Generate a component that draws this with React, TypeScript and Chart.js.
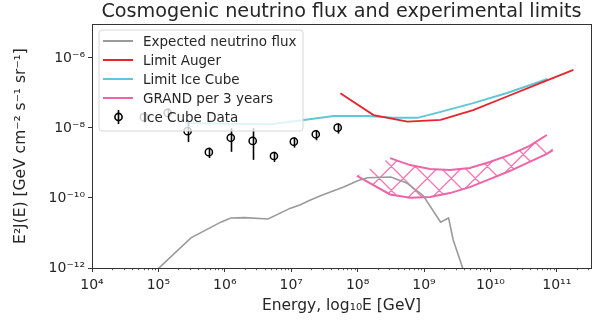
import React, { useEffect, useRef } from 'react';
import { Chart, registerables } from 'chart.js';

Chart.register(...registerables);

// ---- data (log10 values) ----
const titleText = 'Cosmogenic neutrino flux and experimental limits';
const xAxisTitle = 'Energy, log\u2081\u2080E [GeV]';
const yAxisTitle = 'E\u00B2J(E) [GeV cm\u207B\u00B2 s\u207B\u00B9 sr\u207B\u00B9]';
const seriesLabels = ['Expected neutrino flux', 'Limit Auger', 'Limit Ice Cube', 'GRAND per 3 years', 'Ice Cube Data'];

const xTickExps = [4, 5, 6, 7, 8, 9, 10, 11];
const yTickExps = [-12, -10, -8, -6];
const xRangeExp = [4, 11.515];
const yRangeExp = [-12, -5.03];

const fluxLogE = [4.98, 5.49, 5.94, 6.09, 6.3, 6.65, 6.99, 7.13, 7.29, 7.45, 7.59, 7.8, 8.0, 8.15, 8.5, 8.74, 8.99, 9.25, 9.37, 9.44, 9.6];
const fluxLogF = [-12.05, -11.14, -10.69, -10.57, -10.56, -10.6, -10.29, -10.2, -10.06, -9.93, -9.83, -9.68, -9.51, -9.42, -9.4, -9.57, -9.94, -10.69, -10.57, -11.2, -12.1];

const augerLogE = [7.74, 8.24, 8.75, 9.25, 9.74, 10.25, 10.75, 11.25];
const augerLogF = [-7.01, -7.63, -7.82, -7.77, -7.49, -7.1, -6.72, -6.34];

const iceLimLogE = [5.4, 6.0, 6.7, 7.19, 7.64, 8.15, 8.54, 8.9, 9.25, 9.74, 10.25, 10.86];
const iceLimLogF = [-7.86, -7.88, -7.89, -7.77, -7.66, -7.66, -7.71, -7.71, -7.54, -7.29, -7.0, -6.6];

const grandLogE = [7.99, 8.49, 8.79, 9.09, 9.39, 9.69, 9.99, 10.29, 10.59, 10.85, 10.94];
const grandUpperLogF = [-9.37, -8.86, -9.06, -9.17, -9.2, -9.14, -8.97, -8.77, -8.51, -8.2, -8.63];
const grandLowerLogF = [-9.37, -9.9, -9.99, -9.97, -9.86, -9.69, -9.46, -9.23, -8.97, -8.74, -8.63];

const iceDataLogE = [4.78, 5.14, 5.44, 5.76, 6.09, 6.42, 6.74, 7.04, 7.37, 7.7];
const iceDataLogF = [-7.69, -7.57, -8.09, -8.69, -8.28, -8.37, -8.8, -8.39, -8.18, -7.99];
const iceDataLoLogF = [-7.85, -7.72, -8.4, -8.86, -8.68, -8.91, -8.97, -8.56, -8.35, -8.16];
const iceDataHiLogF = [-7.55, -7.43, -7.8, -8.56, -8.0, -8.0, -8.68, -8.27, -8.06, -7.87];

// ---- styles ----
const colFlux = '#9a9a9a';
const colAuger = '#e8232b';
const colIce = '#5ec8d6';
const colGrand = '#ee64a6';
const colHatch = '#f07ab2';
const colText = '#262626';
const colSpine = '#333333';
const FONT = 'DejaVu Sans';
const GRAND_UP = 3;
const GRAND_LOW = 4;

const p10 = (v: number) => Math.pow(10, v);
const SUP: Record<string, string> = { '0': '\u2070', '1': '\u00B9', '2': '\u00B2', '3': '\u00B3', '4': '\u2074', '5': '\u2075', '6': '\u2076', '7': '\u2077', '8': '\u2078', '9': '\u2079', '-': '\u207B' };
const powLabel = (v: number) => '10' + String(Math.round(Math.log10(v))).split('').map((c) => SUP[c] || c).join('');
const pts = (xs: number[], ys: number[]) => xs.map((x, i) => ({ x: p10(x), y: p10(ys[i]) }));

const hatchPlugin = {
  id: 'hatch',
  beforeDatasetsDraw(chart: any) {
    const up = chart.getDatasetMeta(GRAND_UP).data;
    const low = chart.getDatasetMeta(GRAND_LOW).data;
    if (!up.length || !low.length) return;
    const { ctx } = chart;
    ctx.save();
    ctx.beginPath();
    up.forEach((p: any, i: number) => (i === 0 ? ctx.moveTo(p.x, p.y) : ctx.lineTo(p.x, p.y)));
    for (let i = low.length - 1; i >= 0; i--) ctx.lineTo(low[i].x, low[i].y);
    ctx.closePath();
    ctx.clip();
    const xs = [...up, ...low].map((p: any) => p.x);
    const ys = [...up, ...low].map((p: any) => p.y);
    const x0 = Math.min(...xs), x1 = Math.max(...xs), y0 = Math.min(...ys), y1 = Math.max(...ys);
    const h = y1 - y0;
    const step = 24;
    ctx.strokeStyle = colHatch;
    ctx.lineWidth = 1.4;
    ctx.beginPath();
    for (let x = Math.floor((x0 - h) / step) * step; x <= x1 + h; x += step) {
      ctx.moveTo(x, y0);
      ctx.lineTo(x + h, y1);
      ctx.moveTo(x, y1);
      ctx.lineTo(x + h, y0);
    }
    ctx.stroke();
    ctx.restore();
  },
};

const framePlugin = {
  id: 'frame',
  afterDatasetsDraw(chart: any) {
    const { ctx, chartArea: a, scales } = chart;
    const xs = scales.x, ys = scales.y;
    ctx.save();
    ctx.beginPath();
    ctx.rect(a.left, a.top, a.right - a.left, a.bottom - a.top);
    ctx.clip();
    ctx.strokeStyle = '#000';
    ctx.lineWidth = 1.6;
    iceDataLogE.forEach((e, i) => {
      const px = Math.round(xs.getPixelForValue(p10(e))) + 0.5;
      ctx.beginPath();
      ctx.moveTo(px, ys.getPixelForValue(p10(iceDataLoLogF[i])));
      ctx.lineTo(px, ys.getPixelForValue(p10(iceDataHiLogF[i])));
      ctx.stroke();
    });
    ctx.restore();
  },
  afterDraw(chart: any) {
    const { ctx, chartArea: a, scales } = chart;
    ctx.save();
    ctx.strokeStyle = colSpine;
    ctx.lineWidth = 0.8;
    const xs = scales.x;
    for (let n = xTickExps[0] - 1; n <= xTickExps[xTickExps.length - 1] + 1; n++) {
      for (let k = 2; k <= 9; k++) {
        const v = k * p10(n);
        if (v < xs.min || v > xs.max) continue;
        const px = Math.round(xs.getPixelForValue(v)) + 0.5;
        ctx.beginPath();
        ctx.moveTo(px, a.bottom);
        ctx.lineTo(px, a.bottom + 2.2);
        ctx.stroke();
      }
    }
    ctx.lineWidth = 1;
    ctx.strokeStyle = colSpine;
    ctx.strokeRect(Math.round(a.left) + 0.5, Math.round(a.top) + 0.5, Math.round(a.right - a.left), Math.round(a.bottom - a.top));
    // legend
    const lx = 99, ly = 30, lw = 204, lh = 101;
    ctx.beginPath();
    const r = 3;
    ctx.moveTo(lx + r, ly);
    ctx.arcTo(lx + lw, ly, lx + lw, ly + lh, r);
    ctx.arcTo(lx + lw, ly + lh, lx, ly + lh, r);
    ctx.arcTo(lx, ly + lh, lx, ly, r);
    ctx.arcTo(lx, ly, lx + lw, ly, r);
    ctx.closePath();
    ctx.fillStyle = 'rgba(255,255,255,0.8)';
    ctx.fill();
    ctx.strokeStyle = '#d6d6d6';
    ctx.lineWidth = 1;
    ctx.stroke();
    const rowY = [41, 60, 79, 98, 117];
    const lineCols = [colFlux, colAuger, colIce, colGrand];
    ctx.font = `13.5px "${FONT}"`;
    ctx.textBaseline = 'middle';
    ctx.textAlign = 'left';
    seriesLabels.forEach((lab, i) => {
      const y = rowY[i];
      if (i < 4) {
        ctx.strokeStyle = lineCols[i];
        ctx.lineWidth = 2;
        ctx.beginPath();
        ctx.moveTo(103, y);
        ctx.lineTo(133, y);
        ctx.stroke();
      } else {
        ctx.strokeStyle = '#000';
        ctx.lineWidth = 1.6;
        ctx.beginPath();
        ctx.moveTo(118.5, y - 7);
        ctx.lineTo(118.5, y + 7);
        ctx.stroke();
        ctx.beginPath();
        ctx.arc(118.5, y, 3.6, 0, Math.PI * 2);
        ctx.stroke();
      }
      ctx.fillStyle = colText;
      ctx.fillText(lab, 143, y + 1);
    });
    ctx.restore();
  },
};

export default function App() {
  const ref = useRef<HTMLCanvasElement | null>(null);
  useEffect(() => {
    if (!ref.current) return;
    const lastSeg = grandLogE.length - 2;
    const chart = new Chart(ref.current, {
      type: 'line',
      data: {
        datasets: [
          { label: seriesLabels[0], data: pts(fluxLogE, fluxLogF), borderColor: colFlux, borderWidth: 1.6, pointRadius: 0, fill: false },
          { label: seriesLabels[1], data: pts(augerLogE, augerLogF), borderColor: colAuger, borderWidth: 1.8, pointRadius: 0, fill: false },
          { label: seriesLabels[2], data: pts(iceLimLogE, iceLimLogF), borderColor: colIce, borderWidth: 2, pointRadius: 0, fill: false },
          {
            label: seriesLabels[3],
            data: pts(grandLogE, grandUpperLogF),
            borderColor: colGrand,
            borderWidth: 2,
            pointRadius: 0,
            fill: false,
            segment: {
              borderColor: (c: any) => (c.p0DataIndex === 0 || c.p0DataIndex === lastSeg ? 'rgba(0,0,0,0)' : colGrand),
            },
          },
          { label: seriesLabels[3] + ' (low)', data: pts(grandLogE, grandLowerLogF), borderColor: colGrand, borderWidth: 2, pointRadius: 0, fill: false },
          {
            label: seriesLabels[4],
            data: pts(iceDataLogE, iceDataLogF),
            showLine: false,
            pointRadius: 3.6,
            pointBorderWidth: 1.5,
            pointBorderColor: '#000',
            pointBackgroundColor: 'rgba(0,0,0,0)',
            borderColor: '#000',
          },
        ] as any,
      },
      options: {
        animation: false,
        responsive: true,
        maintainAspectRatio: false,
        layout: { padding: { left: 0, right: 10, top: 0, bottom: 0 } },
        plugins: {
          legend: { display: false },
          tooltip: { enabled: false },
          title: {
            display: true,
            text: titleText,
            fullSize: false,
            color: colText,
            font: { family: FONT, size: 19.2, weight: 'normal' },
            padding: { top: 0, bottom: 1 },
          },
        },
        scales: {
          x: {
            type: 'logarithmic',
            min: p10(xRangeExp[0]),
            max: p10(xRangeExp[1]),
            afterBuildTicks: (s: any) => {
              s.ticks = xTickExps.map((e) => ({ value: p10(e) }));
            },
            afterFit: (s: any) => {
              s.height = 57;
            },
            ticks: { callback: (v: any) => powLabel(Number(v)), color: colText, font: { family: FONT, size: 14 }, padding: 5, maxRotation: 0, autoSkip: false },
            grid: { drawOnChartArea: false, drawTicks: true, tickLength: 4, color: colSpine, lineWidth: 1 },
            border: { display: false },
            title: { display: true, text: xAxisTitle, color: colText, font: { family: FONT, size: 15.5 }, padding: { top: 0, bottom: 10 } },
          },
          y: {
            type: 'logarithmic',
            min: p10(yRangeExp[0]),
            max: p10(yRangeExp[1]),
            afterBuildTicks: (s: any) => {
              s.ticks = yTickExps.map((e) => ({ value: p10(e) }));
            },
            afterFit: (s: any) => {
              s.width = 92;
            },
            ticks: { callback: (v: any) => powLabel(Number(v)), color: colText, font: { family: FONT, size: 14 }, padding: 3, autoSkip: false },
            grid: { drawOnChartArea: false, drawTicks: true, tickLength: 4, color: colSpine, lineWidth: 1 },
            border: { display: false },
            title: { display: true, text: yAxisTitle, color: colText, font: { family: FONT, size: 15.5 }, padding: { top: 12, bottom: 0 } },
          },
        },
      } as any,
      plugins: [hatchPlugin, framePlugin],
    });
    return () => chart.destroy();
  }, []);
  return (
    <div style={{ position: 'fixed', left: 0, top: 0, width: 601, height: 325, background: '#fff' }}>
      <canvas ref={ref} />
    </div>
  );
}
